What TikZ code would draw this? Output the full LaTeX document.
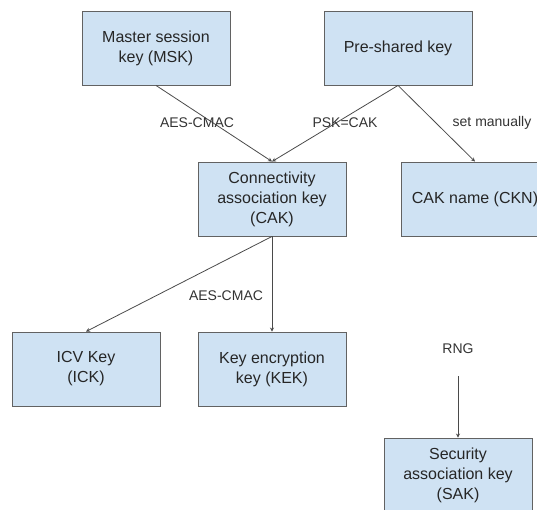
\documentclass[tikz,border=0pt]{standalone}
\usepackage{fontspec}
\setmainfont{Liberation Sans}
\usetikzlibrary{arrows.meta}
\definecolor{keyfill}{HTML}{CFE2F3}
\definecolor{keyline}{HTML}{626262}
\definecolor{arrline}{HTML}{4A4A4A}
\begin{document}
\begin{tikzpicture}[x=1pt, y=-1pt,
    keybox/.style={draw=keyline, fill=keyfill, line width=0.9pt, minimum width=148pt,
      minimum height=74pt, align=center, inner sep=0pt,
      font=\fontsize{16}{20}\selectfont, text=black!85},
    lbl/.style={font=\fontsize{14}{17}\selectfont, text=black!80, inner sep=0pt},
    arr/.style={draw=arrline, line width=0.8pt, -{Stealth[length=4pt, width=4pt]}}]
    \path[use as bounding box, clip] (0,0) rectangle (537,510);

    % Key boxes
    \node[keybox] (msk) at (156,48) {Master session\\key (MSK)};
    \node[keybox] (psk) at (398,48) {Pre-shared key};
    \node[keybox] (cak) at (272,199) {Connectivity\\association key\\(CAK)};
    \node[keybox] (ckn) at (475,199) {CAK name (CKN)};
    \node[keybox] (ick) at (86,369) {ICV Key\\(ICK)};
    \node[keybox] (kek) at (272,369) {Key encryption\\key (KEK)};
    \node[keybox] (sak) at (458,475) {Security\\association key\\(SAK)};

    % Derivations
    \draw[arr] (msk.south) -- (cak.north);
    \draw[arr] (psk.south) -- (cak.north);
    \draw[arr] (psk.south) -- (ckn.north);
    \draw[arr] (cak.south) -- (ick.north);
    \draw[arr] (cak.south) -- (kek.north);

    % Labels
    \node[lbl] (lmsk) at (197,123) {AES-CMAC};
    \node[lbl] (lpsk) at (345,123) {PSK=CAK};
    \node[lbl] (lckn) at (492,123) {set manually};
    \node[lbl] (lkek) at (226,296) {AES-CMAC};
    \node[lbl] (rng) at (458,349) {RNG};

    \coordinate (rngtail) at (458,376);
    \draw[arr] (rngtail) -- (sak.north);
\end{tikzpicture}
\end{document}
